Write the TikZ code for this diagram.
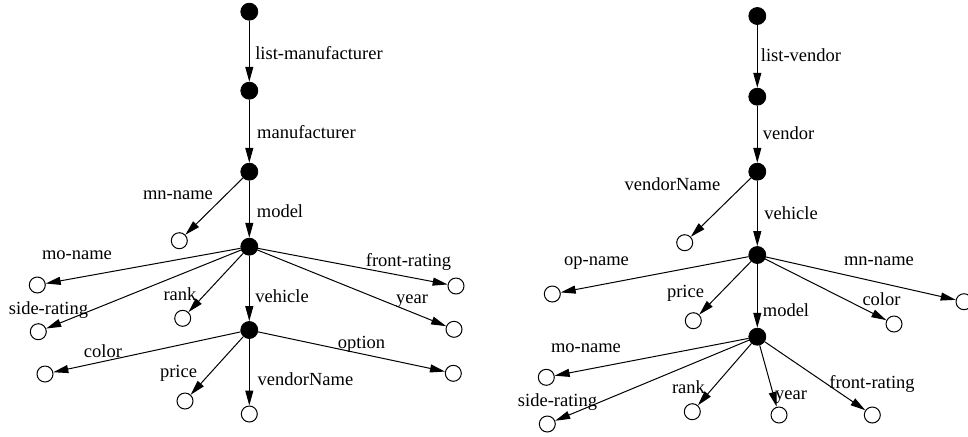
\documentclass[tikz,border=0pt]{standalone}
\usepackage{fontspec}
\setmainfont{Liberation Serif}
\usetikzlibrary{arrows.meta}
\begin{document}
\begin{tikzpicture}[x=0.5pt,y=-0.5pt,
  full/.style={circle,fill=black,draw=black,inner sep=0pt,minimum size=8.5pt},
  empty/.style={circle,draw=black,line width=0.5pt,fill=white,inner sep=0pt,minimum size=8pt},
  lbl/.style={inner sep=0pt,font=\fontsize{9.25}{11}\selectfont},
  arr/.style={-{Triangle[length=7.5pt,width=4pt]},line width=0.5pt}]
\useasboundingbox (0,0) rectangle (968,436);
% ---------- left tree ----------
\node[full] (L1) at (249.3,11.7) {};
\node[full] (L2) at (249.3,90.7) {};
\node[full] (L3) at (249.3,171.7) {};
\node[full] (L4) at (249.3,246.7) {};
\node[full] (L5) at (249.3,330) {};
\node[empty] (Lmn) at (179.3,240.7) {};
\node[empty] (Lmo) at (37.3,285) {};
\node[empty] (Lside) at (38.3,331.7) {};
\node[empty] (Lrank) at (182.7,318.3) {};
\node[empty] (Lfront) at (456,286) {};
\node[empty] (Lyear) at (454,329.3) {};
\node[empty] (Lcolor) at (45,374) {};
\node[empty] (Lprice) at (185,401) {};
\node[empty] (Lvn) at (249.3,414) {};
\node[empty] (Lopt) at (453.3,373.3) {};
\draw[arr] (L1) -- (L2);
\draw[arr] (L2) -- (L3);
\draw[arr] (L3) -- (Lmn);
\draw[arr] (L3) -- (L4);
\draw[arr] (L4) -- (Lmo);
\draw[arr] (L4) -- (Lside);
\draw[arr] (L4) -- (Lrank);
\draw[arr] (L4) -- (L5);
\draw[arr] (L4) -- (Lfront);
\draw[arr] (L4) -- (Lyear);
\draw[arr] (L5) -- (Lcolor);
\draw[arr] (L5) -- (Lprice);
\draw[arr] (L5) -- (Lvn);
\draw[arr] (L5) -- (Lopt);
\node[lbl] (tL1) at (319,53) {list-manufacturer};
\node[lbl] (tL2) at (306.5,132) {manufacturer};
\node[lbl] (tL3) at (178,195) {mn-name};
\node[lbl] (tL4) at (280,211) {model};
\node[lbl] (tL5) at (77,255) {mo-name};
\node[lbl] (tL6) at (48.5,310) {side-rating};
\node[lbl] (tL7) at (180,294) {rank};
\node[lbl] (tL8) at (282,296) {vehicle};
\node[lbl] (tL9) at (408.5,262) {front-rating};
\node[lbl] (tL10) at (412,301) {year};
\node[lbl] (tL11) at (103,350.7) {color};
\node[lbl] (tL12) at (178.5,373.5) {price};
\node[lbl] (tL13) at (305.5,379) {vendorName};
\node[lbl] (tL14) at (361.5,344) {option};
% ---------- right tree ----------
\node[full] (R1) at (757.3,16) {};
\node[full] (R2) at (757.3,96.7) {};
\node[full] (R3) at (757.3,171.7) {};
\node[full] (R4) at (757.3,255) {};
\node[full] (R5) at (757.3,336.7) {};
\node[empty] (Rvn) at (684.7,242.7) {};
\node[empty] (Rop) at (552.3,294) {};
\node[empty] (Rprice) at (693.3,320.7) {};
\node[empty] (Rcolor) at (894,324) {};
\node[empty] (Rmn) at (964,301.7) {};
\node[empty] (Rmo) at (546.3,377.3) {};
\node[empty] (Rside) at (547.3,424) {};
\node[empty] (Rrank) at (692.3,411.7) {};
\node[empty] (Ryear) at (779,415) {};
\node[empty] (Rfront) at (872.3,415) {};
\draw[arr] (R1) -- (R2);
\draw[arr] (R2) -- (R3);
\draw[arr] (R3) -- (Rvn);
\draw[arr] (R3) -- (R4);
\draw[arr] (R4) -- (Rop);
\draw[arr] (R4) -- (Rprice);
\draw[arr] (R4) -- (R5);
\draw[arr] (R4) -- (Rcolor);
\draw[arr] (R4) -- (Rmn);
\draw[arr] (R5) -- (Rmo);
\draw[arr] (R5) -- (Rside);
\draw[arr] (R5) -- (Rrank);
\draw[arr] (R5) -- (Ryear);
\draw[arr] (R5) -- (Rfront);
\node[lbl] (tR1) at (801,55) {list-vendor};
\node[lbl] (tR2) at (788.5,133) {vendor};
\node[lbl] (tR3) at (672.5,184) {vendorName};
\node[lbl] (tR4) at (791,212.7) {vehicle};
\node[lbl] (tR5) at (596.5,263.5) {op-name};
\node[lbl] (tR6) at (685.5,293.5) {price};
\node[lbl] (tR7) at (786,310) {model};
\node[lbl] (tR8) at (881.5,299) {color};
\node[lbl] (tR9) at (879,261.7) {mn-name};
\node[lbl] (tR10) at (586,348.3) {mo-name};
\node[lbl] (tR11) at (557.5,402.5) {side-rating};
\node[lbl] (tR12) at (688.5,387.3) {rank};
\node[lbl] (tR13) at (791,397.5) {year};
\node[lbl] (tR14) at (872,383.5) {front-rating};
\end{tikzpicture}
\end{document}
